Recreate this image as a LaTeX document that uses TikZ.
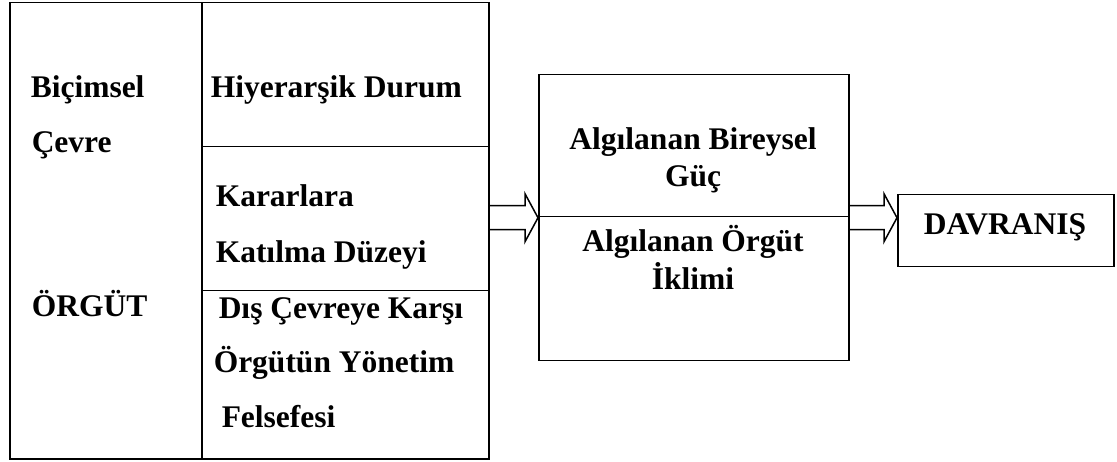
\documentclass[tikz,border=0pt]{standalone}
\usepackage{fontspec}
\setmainfont{Liberation Serif}
\usetikzlibrary{calc}
\begin{document}
\begin{tikzpicture}[x=1pt,y=-1pt,line width=1.5pt,line join=miter,
  box/.style={draw,rectangle,inner sep=0pt,anchor=north west},
  lbl/.style={anchor=base west,inner sep=0pt,font=\fontsize{31.5}{37}\selectfont\bfseries},
  clbl/.style={anchor=base,inner sep=0pt,font=\fontsize{31.5}{37}\selectfont\bfseries},
  blockarrow/.style={draw,line width=1.5pt}]
\useasboundingbox (0,0) rectangle (1117,462);
% left block
\node[box,minimum width=479pt,minimum height=456pt] (org) at (9,2) {};
\node[box,minimum width=192pt,minimum height=456pt] (leftcol) at (9,2) {};
\node[box,minimum width=287pt,minimum height=144pt] (hier) at (201,2) {};
\node[box,minimum width=287pt,minimum height=144pt] (karar) at (201,146) {};
\node[box,minimum width=287pt,minimum height=168pt] (dis) at (201,290) {};
% middle block
\node[box,minimum width=310pt,minimum height=286pt] (mid) at (538,74) {};
\node[box,minimum width=310pt,minimum height=142pt] (mid1) at (538,74) {};
% behaviour
\node[box,minimum width=216pt,minimum height=72pt] (dav) at (897,194) {};
% texts
\node[lbl] (t1) at (30,98) {Biçimsel};
\node[lbl] (t2) at (31,153) {Çevre};
\node[lbl] (t3) at (31,317) {ÖRGÜT};
\node[lbl] (t4) at (210,98) {Hiyerarşik Durum};
\node[lbl] (t5) at (215,207) {Kararlara};
\node[lbl] (t6) at (215,263) {Katılma Düzeyi};
\node[lbl] (t7) at (218,319) {Dış Çevreye Karşı};
\node[lbl] (t8) at (213,373) {Örgütün Yönetim};
\node[lbl] (t9) at (221,428) {Felsefesi};
\node[clbl] (m1) at (693,150) {Algılanan Bireysel};
\node[clbl] (m2) at (693,187) {Güç};
\node[clbl] (m3) at (693,252) {Algılanan Örgüt};
\node[clbl] (m4) at (693,290) {İklimi};
\node[clbl] (d1) at (1005,235) {DAVRANIŞ};
% block arrows
\coordinate (T1) at (mid.west -| org.east);
\coordinate (P1) at (mid.west);
\draw[blockarrow] ($(T1)+(0,-12)$) -- ($(P1)+(-13,-12)$) -- ($(P1)+(-13,-24)$) -- (P1)
  -- ($(P1)+(-13,24)$) -- ($(P1)+(-13,12)$) -- ($(T1)+(0,12)$);
\coordinate (T2) at (mid.east);
\coordinate (P2) at (mid.east -| dav.west);
\draw[blockarrow] ($(T2)+(0,-12)$) -- ($(P2)+(-13,-12)$) -- ($(P2)+(-13,-24)$) -- (P2)
  -- ($(P2)+(-13,24)$) -- ($(P2)+(-13,12)$) -- ($(T2)+(0,12)$);
\end{tikzpicture}
\end{document}
